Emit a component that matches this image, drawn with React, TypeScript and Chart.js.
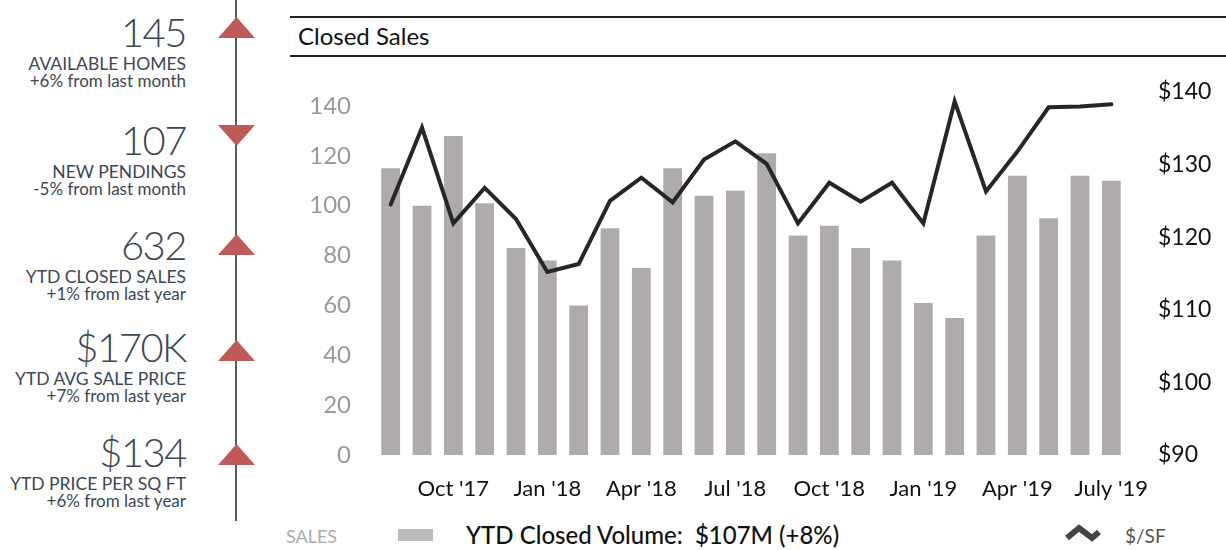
import React, { useEffect, useRef } from "react";
import { Chart, registerables } from "chart.js";

Chart.register(...registerables);

const months = [
  "Aug '17", "Sep '17", "Oct '17", "Nov '17", "Dec '17", "Jan '18",
  "Feb '18", "Mar '18", "Apr '18", "May '18", "Jun '18", "Jul '18",
  "Aug '18", "Sep '18", "Oct '18", "Nov '18", "Dec '18", "Jan '19",
  "Feb '19", "Mar '19", "Apr '19", "May '19", "Jun '19", "July '19",
];
const tickLabels = [
  "", "", "Oct '17", "", "", "Jan '18",
  "", "", "Apr '18", "", "", "Jul '18",
  "", "", "Oct '18", "", "", "Jan '19",
  "", "", "Apr '19", "", "", "July '19",
];
const closedSales = [
  115, 100, 128, 101, 83, 78, 60, 91, 75, 115, 104, 106,
  121, 88, 92, 83, 78, 61, 55, 88, 112, 95, 112, 110,
];
const pricePerSqFt = [
  124.5, 135.1, 121.9, 126.8, 122.5, 115.2, 116.3, 125.0, 128.2, 124.8, 130.7, 133.2,
  130.1, 121.9, 127.5, 124.9, 127.5, 121.9, 138.7, 126.3, 131.8, 137.9, 138.0, 138.3,
];
const salesTicks = [0, 20, 40, 60, 80, 100, 120, 140];
const priceTicks = [90, 100, 110, 120, 130, 140];

const kpiValues = ["145", "107", "632", "$170K", "$134"];
const kpiLabels = ["AVAILABLE HOMES", "NEW PENDINGS", "YTD CLOSED SALES", "YTD AVG SALE PRICE", "YTD PRICE PER SQ FT"];
const kpiChanges = ["+6% from last month", "-5% from last month", "+1% from last year", "+7% from last year", "+6% from last year"];
const kpiDirections = ["up", "down", "up", "up", "up"];

const FONT = "Lato, 'Open Sans', sans-serif";
const KPI_COLOR = "#3d4753";
const RED = "#c05a59";

function ClosedSalesChart() {
  const ref = useRef<HTMLCanvasElement | null>(null);
  useEffect(() => {
    if (!ref.current) return;
    const chart = new Chart(ref.current, {
      data: {
        labels: months,
        datasets: [
          {
            type: "line",
            label: "$/SF",
            data: pricePerSqFt,
            yAxisID: "yPrice",
            borderColor: "#262626",
            borderWidth: 4,
            pointRadius: 0,
            tension: 0,
            borderCapStyle: "round",
            order: 0,
          },
          {
            type: "bar",
            label: "SALES",
            data: closedSales,
            yAxisID: "ySales",
            backgroundColor: "#afabaa",
            categoryPercentage: 0.8,
            barPercentage: 0.75,
            order: 1,
          },
        ],
      } as any,
      options: {
        animation: false,
        responsive: false,
        maintainAspectRatio: false,
        layout: { padding: { top: 32, left: 0, right: 0, bottom: 0 } },
        plugins: { legend: { display: false }, tooltip: { enabled: false } },
        scales: {
          x: {
            grid: { display: false, drawTicks: false },
            border: { display: false },
            ticks: {
              autoSkip: false,
              maxRotation: 0,
              padding: 21,
              color: "#111",
              font: { family: FONT, size: 22 },
              callback: (_v: any, i: number) => tickLabels[i],
            },
            afterFit: (s: any) => { s.height = 65; s.paddingLeft = 0; s.paddingRight = 0; },
          },
          ySales: {
            position: "left",
            min: 0,
            max: 145.6,
            grid: { display: false, drawTicks: false },
            border: { display: false },
            afterBuildTicks: (s: any) => { s.ticks = salesTicks.map((v) => ({ value: v })); },
            ticks: {
              padding: 24,
              color: "#999",
              font: { family: FONT, size: 24 },
              callback: (v: any) => String(v),
            },
            afterFit: (s: any) => { s.width = 85; s.paddingTop = 0; s.paddingBottom = 0; },
          },
          yPrice: {
            position: "right",
            min: 90,
            max: 140,
            grid: { display: false, drawTicks: false },
            border: { display: false },
            afterBuildTicks: (s: any) => { s.ticks = priceTicks.map((v) => ({ value: v })); },
            ticks: {
              padding: 31,
              color: "#111",
              font: { family: FONT, size: 23 },
              callback: (v: any) => "$" + v,
            },
            afterFit: (s: any) => { s.width = 99; s.paddingTop = 0; s.paddingBottom = 0; },
          },
        },
      } as any,
    });
    return () => chart.destroy();
  }, []);
  return (
    <canvas
      ref={ref}
      width={936}
      height={460}
      style={{ position: "absolute", left: 290, top: 60, width: 936, height: 460 }}
    />
  );
}

function Triangle({ y, dir }: { y: number; dir: string }) {
  const pts = dir === "up" ? "0,21 18.5,0 37,21" : "0,0 37,0 18.5,21";
  return (
    <svg width={37} height={21} style={{ position: "absolute", left: 218, top: y }}>
      <polygon points={pts} fill={RED} />
    </svg>
  );
}

export default function App() {
  const baselines = [47, 155, 260, 362, 467];
  const triTops = [17, 125, 234, 340, 444];
  return (
    <div style={{ position: "fixed", left: 0, top: 0, width: 1226, height: 550, overflow: "hidden", background: "#fff", fontFamily: FONT }}>
      <div style={{ position: "absolute", left: 235, top: 0, width: 2, height: 521, background: "#5a5a5a" }} />
      {kpiValues.map((v, i) => (
        <React.Fragment key={i}>
          <div style={{ position: "absolute", left: 0, width: 186, top: baselines[i] - 39.5, height: 48, lineHeight: "48px", fontSize: 40, fontWeight: 300, letterSpacing: -1.5, color: KPI_COLOR, textAlign: "right", whiteSpace: "nowrap" }}>{v}</div>
          <div style={{ position: "absolute", left: 0, width: 186, top: baselines[i] + 23 - 17.3, height: 21, lineHeight: "21px", fontSize: 17.5, color: KPI_COLOR, textAlign: "right", whiteSpace: "nowrap" }}>{kpiLabels[i]}</div>
          <div style={{ position: "absolute", left: 0, width: 186, top: baselines[i] + 41 - 16.8, height: 20, lineHeight: "20.4px", fontSize: 17, color: KPI_COLOR, textAlign: "right", whiteSpace: "nowrap" }}>{kpiChanges[i]}</div>
          <Triangle y={triTops[i]} dir={kpiDirections[i]} />
        </React.Fragment>
      ))}
      <div style={{ position: "absolute", left: 290, top: 16, width: 936, height: 1.5, background: "#222" }} />
      <div style={{ position: "absolute", left: 290, top: 55, width: 936, height: 1.5, background: "#222" }} />
      <div style={{ position: "absolute", left: 298, top: 21.6, lineHeight: "28.8px", fontSize: 24, color: "#111" }}>Closed Sales</div>
      <ClosedSalesChart />
      <div style={{ position: "absolute", left: 286, top: 525, lineHeight: "22px", fontSize: 18, color: "#aaa" }}>SALES</div>
      <div style={{ position: "absolute", left: 398, top: 529, width: 35, height: 12, background: "#bbb" }} />
      <div style={{ position: "absolute", left: 466, top: 521, lineHeight: "28.8px", fontSize: 24, fontWeight: 500, color: "#111", whiteSpace: "pre" }}>YTD Closed Volume:  $107M (+8%)</div>
      <svg width={50} height={30} style={{ position: "absolute", left: 1060, top: 520 }}>
        <polyline points="7,18 19,8 32,18 39,12" fill="none" stroke="#444" strokeWidth={6} strokeLinejoin="miter" />
      </svg>
      <div style={{ position: "absolute", left: 1125, top: 525, lineHeight: "22px", fontSize: 19, color: "#555" }}>$/SF</div>
    </div>
  );
}
